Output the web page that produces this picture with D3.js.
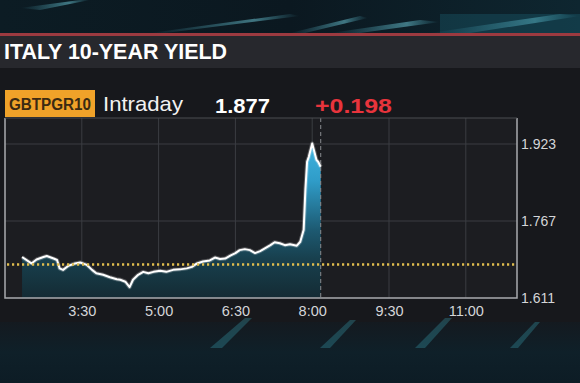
<!DOCTYPE html>
<html><head><meta charset="utf-8">
<script src="https://cdn.jsdelivr.net/npm/d3@7"></script>
<style>html,body{margin:0;padding:0;background:#15161a;overflow:hidden}svg{display:block}</style>
</head><body>
<script>
const title = "ITALY 10-YEAR YIELD";
const ticker = "GBTPGR10";
const mode = "Intraday";
const lastValue = "1.877";
const change = "+0.198";
const prevClose = 1.679;
const endTime = "8:10";
const times = ["2:20","2:31","2:37","2:45","2:49","2:57","3:01","3:04","3:08","3:14","3:22","3:28","3:36","3:42","3:47","3:55","4:03","4:11","4:15","4:21","4:26","4:30","4:36","4:42","4:48","4:54","5:02","5:09","5:17","5:25","5:33","5:39","5:45","5:52","6:00","6:06","6:12","6:18","6:24","6:30","6:35","6:41","6:47","6:53","6:59","7:05","7:11","7:16","7:22","7:28","7:34","7:42","7:46","7:50","7:52","7:54","7:56","8:00","8:05","8:07","8:10"];
const values = [1.694,1.681,1.689,1.694,1.696,1.691,1.688,1.671,1.668,1.676,1.681,1.683,1.678,1.668,1.661,1.658,1.653,1.649,1.648,1.644,1.633,1.648,1.658,1.664,1.661,1.664,1.666,1.664,1.668,1.669,1.671,1.674,1.681,1.685,1.687,1.693,1.690,1.691,1.697,1.702,1.708,1.710,1.708,1.702,1.706,1.712,1.718,1.724,1.722,1.718,1.720,1.717,1.725,1.749,1.830,1.887,1.897,1.924,1.891,1.887,1.877];
const yTicks = [1.611, 1.767, 1.923];
const xTicks = ["3:30","5:00","6:30","8:00","9:30","11:00"];
const xDomain = ["2:00","12:00"];

const toH = s => { const [h,m] = s.split(":").map(Number); return h + m/60; };
const W = 580, H = 383;
const L = 5, R = 517, T = 118, B = 298;
const FF = "Liberation Sans, Arial, sans-serif";

const svg = d3.select("body").append("svg").attr("width", W).attr("height", H);
const defs = svg.append("defs");

// backgrounds
const topG = defs.append("linearGradient").attr("id","topg").attr("x1",0).attr("y1",0).attr("x2",1).attr("y2",0);
topG.append("stop").attr("offset",0).attr("stop-color","#0c1c24");
topG.append("stop").attr("offset",0.5).attr("stop-color","#0b1820");
topG.append("stop").attr("offset",1).attr("stop-color","#0e2630");
svg.append("rect").attr("width",W).attr("height",34).attr("fill","url(#topg)");
const streak = defs.append("linearGradient").attr("id","streak").attr("x1",0).attr("y1",0).attr("x2",1).attr("y2",0);
streak.append("stop").attr("offset",0).attr("stop-color","#5fd8f0").attr("stop-opacity",0);
streak.append("stop").attr("offset",0.7).attr("stop-color","#7fe6f6").attr("stop-opacity",0.45);
streak.append("stop").attr("offset",1).attr("stop-color","#5fd8f0").attr("stop-opacity",0);
[[150,33,290,14,300,16,165,33],[290,33,360,16,368,18,305,33],[330,33,420,20,440,22,360,33],[430,33,560,14,580,16,470,33],[20,8,80,0,90,0,40,10]].forEach(p=>{
  svg.append("polygon").attr("points",`${p[0]},${p[1]} ${p[2]},${p[3]} ${p[4]},${p[5]} ${p[6]},${p[7]}`).attr("fill","url(#streak)");
});
svg.append("rect").attr("x",440).attr("y",14).attr("width",140).attr("height",20).attr("fill","#1f6e80").attr("opacity",0.3);
svg.append("rect").attr("y",33).attr("width",W).attr("height",3).attr("fill","#9c3a40");
svg.append("rect").attr("y",36).attr("width",W).attr("height",32).attr("fill","#27282d");
svg.append("rect").attr("y",68).attr("width",W).attr("height",262).attr("fill","#17181c");
const botG = defs.append("linearGradient").attr("id","botg").attr("x1",0).attr("y1",0).attr("x2",0).attr("y2",1);
botG.append("stop").attr("offset",0).attr("stop-color","#141a20");
botG.append("stop").attr("offset",0.5).attr("stop-color","#0f2029");
botG.append("stop").attr("offset",1).attr("stop-color","#0d1c25");
svg.append("rect").attr("y",322).attr("width",W).attr("height",H-322).attr("fill","url(#botg)");
[[210,348,245,318,252,318,222,348],[320,348,350,320,356,320,330,348],[415,348,445,318,452,318,425,348],[510,348,535,322,540,322,518,348]].forEach(p=>{
  svg.append("polygon").attr("points",`${p[0]},${p[1]} ${p[2]},${p[3]} ${p[4]},${p[5]} ${p[6]},${p[7]}`).attr("fill","#3aa8b8").attr("opacity",0.3);
});

// title
svg.append("text").attr("x",4).attr("y",59).text(title)
  .attr("fill","#ffffff").attr("font-family",FF).attr("font-weight","bold").attr("font-size",22)
  .attr("textLength",223).attr("lengthAdjust","spacingAndGlyphs");

// header row
svg.append("rect").attr("x",5).attr("y",90).attr("width",90).attr("height",27).attr("fill","#f0a229");
svg.append("text").attr("x",50).attr("y",110).attr("text-anchor","middle").text(ticker)
  .attr("fill","#3b2a12").attr("font-family",FF).attr("font-weight","bold").attr("font-size",16).attr("textLength",82).attr("lengthAdjust","spacingAndGlyphs");
svg.append("text").attr("x",103).attr("y",111).text(mode)
  .attr("fill","#f2f2f2").attr("font-family",FF).attr("font-size",21).attr("textLength",80).attr("lengthAdjust","spacingAndGlyphs");
svg.append("text").attr("x",215).attr("y",113).text(lastValue)
  .attr("fill","#ffffff").attr("font-family",FF).attr("font-weight","bold").attr("font-size",21).attr("textLength",55).attr("lengthAdjust","spacingAndGlyphs");
svg.append("text").attr("x",315).attr("y",113).text(change)
  .attr("fill","#e8343c").attr("font-family",FF).attr("font-weight","bold").attr("font-size",21).attr("textLength",77).attr("lengthAdjust","spacingAndGlyphs");

// scales
const x = d3.scaleLinear().domain(xDomain.map(toH)).range([L, R]);
const y2 = d3.scaleLinear().domain([1.611, 1.923]).range([B, 144]);

svg.append("rect").attr("x",L).attr("y",T).attr("width",R-L).attr("height",B-T).attr("fill","#1c1d21");

// grid
const g = svg.append("g");
g.selectAll("line.vg").data(xTicks).join("line")
  .attr("x1",d=>x(toH(d))).attr("x2",d=>x(toH(d))).attr("y1",T).attr("y2",B)
  .attr("stroke","#3b3d42").attr("stroke-width",1);
g.selectAll("line.hg").data(yTicks.slice(1)).join("line").attr("class","hg")
  .attr("x1",L).attr("x2",R).attr("y1",d=>y2(d)).attr("y2",d=>y2(d))
  .attr("stroke","#3b3d42").attr("stroke-width",1);

// area + line
const data = times.map((t,i)=>({t:toH(t), v:values[i]}));
const fillG = defs.append("linearGradient").attr("id","fillg").attr("gradientUnits","userSpaceOnUse")
  .attr("x1",0).attr("y1",T).attr("x2",0).attr("y2",B);
fillG.append("stop").attr("offset",0).attr("stop-color","#4cc4f0");
fillG.append("stop").attr("offset",0.35).attr("stop-color","#2f9cc8");
fillG.append("stop").attr("offset",0.62).attr("stop-color","#1d5a72");
fillG.append("stop").attr("offset",0.78).attr("stop-color","#18404e");
fillG.append("stop").attr("offset",1).attr("stop-color","#142b34");
const area = d3.area().x(d=>x(d.t)).y0(B).y1(d=>y2(d.v));
svg.append("path").datum(data).attr("d",area).attr("fill","url(#fillg)");
const line = d3.line().x(d=>x(d.t)).y(d=>y2(d.v));
svg.append("path").datum(data).attr("d",line).attr("fill","none").attr("stroke","#ffffff").attr("stroke-opacity",0.25).attr("stroke-width",4).attr("stroke-linejoin","round");
svg.append("path").datum(data).attr("d",line).attr("fill","none").attr("stroke","#ffffff").attr("stroke-width",2).attr("stroke-linejoin","round");

// previous close dotted
svg.append("line").attr("x1",L+2).attr("x2",R-2).attr("y1",y2(prevClose)).attr("y2",y2(prevClose))
  .attr("stroke","#e0bd4e").attr("stroke-width",2.5).attr("stroke-dasharray","2.2,2.8");

// current time dashed
svg.append("line").attr("x1",x(toH(endTime))).attr("x2",x(toH(endTime))).attr("y1",T).attr("y2",B)
  .attr("stroke","#8a8c90").attr("stroke-width",1).attr("stroke-dasharray","4,3");

// frame
svg.append("path").attr("d",`M${L},${T}V${B}H${R}V${T}`).attr("fill","none").attr("stroke","#a9abae").attr("stroke-width",1.5);
svg.append("line").attr("x1",L).attr("x2",R).attr("y1",T).attr("y2",T).attr("stroke","#4a4c50").attr("stroke-width",1);

// axes
const xAxis = d3.axisBottom(x).tickValues(xTicks.map(toH)).tickSize(0).tickPadding(8)
  .tickFormat((d,i)=>xTicks[i]);
svg.append("g").attr("transform",`translate(0,${B})`).call(xAxis)
  .call(a=>a.select(".domain").remove())
  .selectAll("text").attr("fill","#d4d5d8").attr("font-family",FF).attr("font-size",14.5);
const yAxis = d3.axisRight(y2).tickValues(yTicks).tickSize(0).tickPadding(4).tickFormat(d3.format(".3f"));
svg.append("g").attr("transform",`translate(${R},0)`).call(yAxis)
  .call(a=>a.select(".domain").remove())
  .selectAll("text").attr("fill","#d4d5d8").attr("font-family",FF).attr("font-size",14);
</script>
</body></html>
